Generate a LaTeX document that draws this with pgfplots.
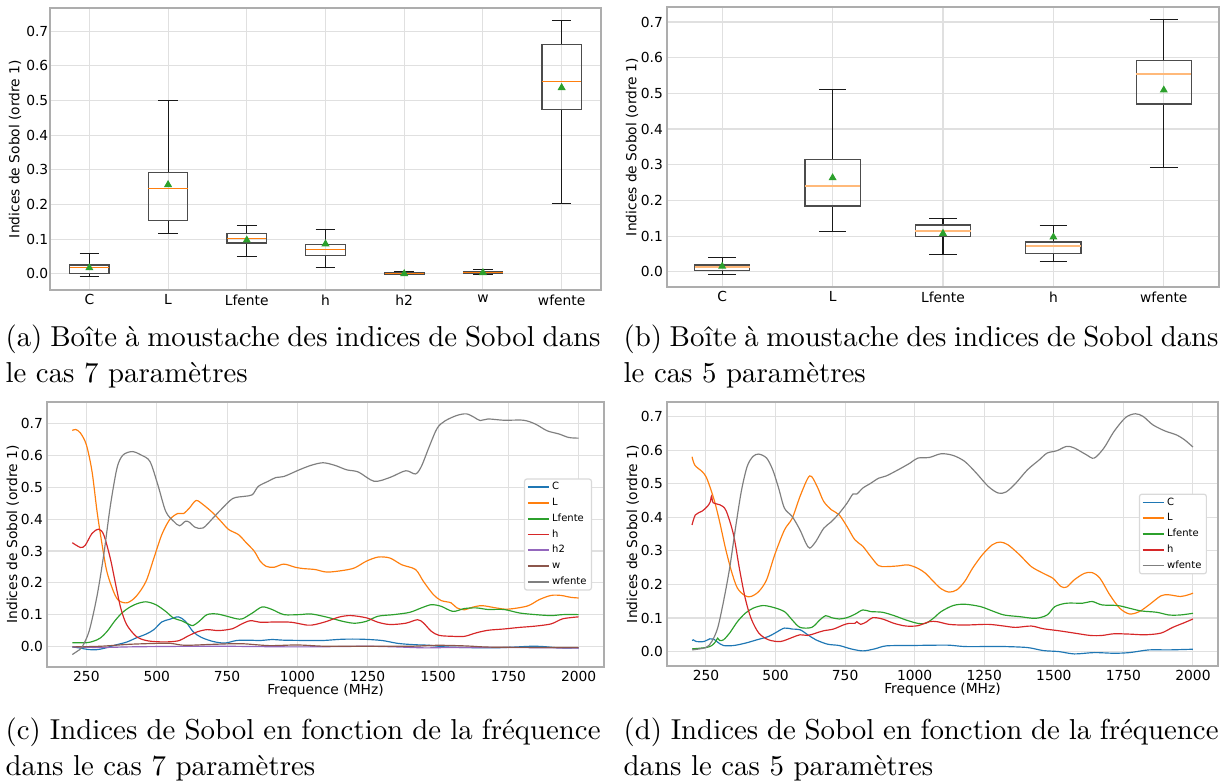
\documentclass[border=0pt]{standalone}
\usepackage{fontspec}
\usepackage{pgfplots}
\pgfplotsset{compat=1.18}
\usepgfplotslibrary{statistics}
\newfontfamily\dv{DejaVu Sans}
\newcommand\pf{\dv\fontsize{4.7}{5.6}\selectfont}
\newcommand\lf{\dv\fontsize{3.4}{4}\selectfont}
\definecolor{tblue}{HTML}{1F77B4}
\definecolor{torange}{HTML}{FF7F0E}
\definecolor{tgreen}{HTML}{2CA02C}
\definecolor{tred}{HTML}{D62728}
\definecolor{tpurple}{HTML}{9467BD}
\definecolor{tbrown}{HTML}{8C564B}
\definecolor{tgray}{HTML}{7F7F7F}
\pgfplotsset{
  mystyle/.style={
    scale only axis,
    anchor=north west,
    axis line style={draw=black!32, line width=0.4pt},
    grid=major,
    major grid style={draw=black!12, line width=0.35pt},
    major tick length=0pt,
    tick style={draw=none},
    ticklabel style={font=\pf},
    /pgf/number format/assume math mode=true,
    label style={font=\pf},
    ytick={0,0.1,0.2,0.3,0.4,0.5,0.6,0.7},
    yticklabel style={/pgf/number format/fixed, /pgf/number format/fixed zerofill, /pgf/number format/precision=1},
    every tick label/.append style={inner sep=0pt},
    xticklabel style={yshift=-1.4pt},
    yticklabel style={xshift=-1.2pt},
  },
  boxstyle/.style={
    mystyle,
    boxplot/draw direction=y,
    boxplot/every median/.style={draw=torange, line width=0.4pt},
    boxplot/every whisker/.style={draw=black!90, line width=0.35pt},
    boxplot/every box/.style={draw=black!70, line width=0.45pt},
  },
  linestyle/.style={
    mystyle,
    xmin=110, xmax=2090,
    xtick={250,500,750,1000,1250,1500,1750,2000},
    xticklabel style={/pgf/number format/1000 sep={}},
    xlabel={Frequence (MHz)},
    legend cell align=left,
    legend image code/.code={\draw[##1, line width=0.6pt] (0pt,0pt) -- (7.1pt,0pt);},
    every axis plot/.append style={line width=0.4pt, smooth, tension=0.5},
  },
  leg/.style={legend style={font=\lf, at={(axis description cs:#1,0.5)}, anchor=east,
    draw=black!15, rounded corners=0.8pt, fill=white, inner xsep=0.8pt, inner ysep=0.6pt,
    row sep=0.9pt,
    nodes={inner xsep=0.9pt, inner ysep=0.6pt, text height=2.5pt, text depth=0.75pt}}},
}
\newcommand\bx[7]{\addplot[draw=black!70, boxplot prepared={draw position=#1, lower whisker=#2, lower quartile=#3, median=#4, upper quartile=#5, upper whisker=#6, box extend=0.5, whisker extend=0.25}] coordinates {};}
\begin{document}
\begin{tikzpicture}
\useasboundingbox (0,0) rectangle (415.14pt,-266.22pt);
% (a)
\begin{axis}[boxstyle, at={(17pt,-2.72pt)}, width=187.34pt, height=95.88pt,
  xmin=0.5, xmax=7.5, ymin=-0.047, ymax=0.767,
  xtick={1,2,3,4,5,6,7}, xticklabels={C,L,Lfente,h,h2,w,wfente},
  yticklabel style={xshift=0.8pt},
  ylabel={Indices de Sobol (ordre 1)},
  ylabel style={at={(axis description cs:-0.0635,0.5)}, anchor=center}]
\bx{1}{-0.009}{0.001}{0.018}{0.025}{0.059}{}
\bx{2}{0.117}{0.154}{0.245}{0.293}{0.499}{}
\bx{3}{0.050}{0.089}{0.102}{0.116}{0.140}{}
\bx{4}{0.018}{0.052}{0.070}{0.084}{0.129}{}
\bx{5}{-0.003}{-0.001}{0.001}{0.004}{0.006}{}
\bx{6}{-0.002}{0.001}{0.004}{0.007}{0.011}{}
\bx{7}{0.202}{0.475}{0.554}{0.662}{0.731}{}
\addplot[only marks, mark=triangle*, mark size=1.2pt, color=tgreen] coordinates {(1,0.017) (2,0.257) (3,0.097) (4,0.086) (5,0.000) (6,0.003) (7,0.537)};
\end{axis}
% (b)
\begin{axis}[boxstyle, at={(226.78pt,-2.38pt)}, width=187.68pt, height=95.2pt,
  xmin=0.5, xmax=5.5, ymin=-0.043, ymax=0.742,
  xtick={1,2,3,4,5}, xticklabels={C,L,Lfente,h,wfente},
  boxplot/every median/.style={draw=torange!55, line width=0.65pt},
  ylabel={Indices de Sobol (ordre 1)},
  ylabel style={at={(axis description cs:-0.0634,0.5)}, anchor=center}]
\bx{1}{-0.008}{0.004}{0.013}{0.019}{0.041}{}
\bx{2}{0.112}{0.184}{0.240}{0.314}{0.510}{}
\bx{3}{0.049}{0.098}{0.114}{0.131}{0.148}{}
\bx{4}{0.028}{0.051}{0.073}{0.083}{0.129}{}
\bx{5}{0.291}{0.470}{0.554}{0.593}{0.706}{}
\addplot[only marks, mark=triangle*, mark size=1.2pt, color=tgreen] coordinates {(1,0.015) (2,0.263) (3,0.107) (4,0.097) (5,0.509)};
\end{axis}
% (c)
\begin{axis}[linestyle, leg=0.9785, at={(15.98pt,-136.68pt)}, width=189.38pt, height=90.1pt,
  ymin=-0.063, ymax=0.766,
  ylabel={Indices de Sobol (ordre 1)},
  ylabel style={at={(axis description cs:-0.0616,0.5)}, anchor=center},
  xlabel style={at={(axis description cs:0.5,-0.0906)}, anchor=center}]
\addplot[tblue] coordinates {(200,0.000) (230,-0.004) (255,-0.008) (285,-0.009) (315,-0.004) (350,0.005) (393,0.015) (427,0.028) (462,0.040) (490,0.054) (518,0.078) (545,0.086) (577,0.094) (602,0.080) (630,0.047) (658,0.030) (700,0.017) (742,0.012) (784,0.020) (826,0.021) (868,0.020) (910,0.023) (952,0.021) (1035,0.020) (1091,0.020) (1161,0.024) (1231,0.024) (1301,0.020) (1357,0.011) (1413,0.007) (1469,0.005) (1525,0.000) (1594,-0.002) (1692,-0.003) (1762,-0.001) (1832,0.002) (1874,0.001) (1930,-0.003) (2000,-0.003)};
\addplot[torange] coordinates {(200,0.677) (212,0.680) (229,0.669) (250,0.632) (270,0.549) (288,0.423) (306,0.319) (323,0.235) (347,0.172) (365,0.145) (395,0.138) (427,0.158) (462,0.205) (490,0.278) (518,0.351) (546,0.398) (574,0.417) (595,0.417) (616,0.434) (640,0.458) (665,0.445) (700,0.419) (728,0.393) (756,0.367) (791,0.351) (819,0.325) (847,0.299) (868,0.268) (889,0.252) (917,0.249) (952,0.259) (993,0.249) (1021,0.245) (1063,0.242) (1105,0.234) (1161,0.239) (1203,0.247) (1245,0.268) (1287,0.281) (1329,0.278) (1371,0.257) (1420,0.242) (1448,0.205) (1483,0.164) (1511,0.145) (1546,0.138) (1567,0.122) (1594,0.116) (1622,0.124) (1657,0.129) (1706,0.122) (1748,0.118) (1818,0.128) (1860,0.148) (1902,0.161) (1937,0.161) (1972,0.155) (2000,0.153)};
\addplot[tgreen] coordinates {(200,0.013) (250,0.013) (276,0.018) (300,0.028) (325,0.050) (350,0.080) (375,0.105) (400,0.122) (430,0.135) (462,0.141) (497,0.132) (532,0.111) (560,0.090) (588,0.082) (616,0.070) (630,0.067) (651,0.080) (679,0.101) (714,0.103) (749,0.096) (784,0.088) (805,0.088) (840,0.106) (875,0.125) (910,0.117) (952,0.101) (1007,0.101) (1049,0.103) (1105,0.093) (1161,0.080) (1203,0.074) (1245,0.080) (1287,0.096) (1343,0.101) (1399,0.108) (1441,0.122) (1476,0.132) (1511,0.127) (1553,0.111) (1594,0.120) (1636,0.122) (1678,0.117) (1734,0.117) (1790,0.106) (1846,0.101) (1902,0.098) (1944,0.101) (2000,0.101)};
\addplot[tred] coordinates {(200,0.326) (229,0.311) (246,0.318) (270,0.355) (294,0.368) (312,0.350) (335,0.277) (353,0.200) (372,0.122) (393,0.070) (427,0.033) (462,0.020) (504,0.016) (546,0.016) (581,0.020) (609,0.033) (644,0.047) (679,0.054) (721,0.051) (770,0.057) (798,0.070) (833,0.082) (868,0.077) (924,0.078) (979,0.077) (1035,0.068) (1063,0.070) (1105,0.080) (1147,0.093) (1189,0.098) (1245,0.091) (1287,0.077) (1329,0.070) (1385,0.074) (1427,0.085) (1448,0.075) (1476,0.049) (1504,0.036) (1553,0.033) (1594,0.033) (1636,0.044) (1678,0.052) (1734,0.056) (1790,0.061) (1846,0.065) (1902,0.072) (1944,0.088) (2000,0.094)};
\addplot[tpurple] coordinates {(200,0.000) (300,-0.002) (400,0.000) (500,0.001) (650,0.002) (750,0.002) (850,0.001) (1000,0.000) (1150,0.001) (1250,0.002) (1350,0.000) (1450,-0.003) (1550,-0.002) (1750,-0.002) (1900,-0.003) (2000,-0.004)};
\addplot[tbrown] coordinates {(200,0.000) (300,0.002) (400,0.008) (500,0.011) (550,0.011) (600,0.005) (700,0.008) (800,0.010) (900,0.004) (1000,0.006) (1100,0.002) (1250,0.002) (1400,0.002) (1500,0.005) (1600,0.003) (1700,-0.001) (2000,-0.002)};
\addplot[tgray] coordinates {(200,-0.024) (220,-0.012) (235,0.000) (260,0.050) (288,0.160) (312,0.290) (335,0.440) (359,0.560) (380,0.600) (413,0.611) (445,0.600) (476,0.580) (504,0.507) (532,0.424) (560,0.393) (581,0.379) (602,0.393) (616,0.390) (637,0.374) (665,0.372) (700,0.403) (728,0.429) (770,0.464) (812,0.471) (840,0.476) (861,0.502) (896,0.518) (924,0.530) (952,0.533) (1007,0.554) (1049,0.568) (1091,0.576) (1133,0.568) (1175,0.554) (1217,0.547) (1273,0.518) (1329,0.530) (1385,0.551) (1420,0.541) (1441,0.565) (1469,0.627) (1497,0.684) (1525,0.707) (1567,0.724) (1601,0.729) (1629,0.718) (1650,0.708) (1678,0.713) (1734,0.709) (1804,0.709) (1846,0.697) (1888,0.676) (1930,0.666) (1965,0.655) (2000,0.653)};
\legend{C,L,Lfente,h,h2,w,wfente}
\end{axis}
% (d)
\begin{axis}[linestyle, leg=0.98, at={(226.78pt,-136.68pt)}, width=187.34pt, height=89.76pt,
  ymin=-0.043, ymax=0.743,
  ylabel={Indices de Sobol (ordre 1)},
  ylabel style={at={(axis description cs:-0.0622,0.5)}, anchor=center},
  xlabel style={at={(axis description cs:0.5,-0.0909)}, anchor=center}]
\addplot[tblue] coordinates {(200,0.033) (205,0.035) (215,0.030) (243,0.030) (264,0.038) (278,0.037) (292,0.028) (313,0.018) (349,0.018) (391,0.025) (433,0.035) (475,0.045) (504,0.058) (532,0.070) (560,0.067) (588,0.065) (616,0.050) (645,0.035) (687,0.022) (729,0.018) (771,0.008) (814,0.002) (856,0.008) (898,0.017) (983,0.018) (1067,0.019) (1124,0.019) (1180,0.015) (1264,0.015) (1321,0.015) (1405,0.012) (1462,0.003) (1518,0.000) (1574,-0.007) (1645,-0.003) (1716,-0.005) (1772,-0.003) (1842,0.005) (1913,0.005) (2000,0.007)};
\addplot[torange] coordinates {(200,0.580) (210,0.555) (236,0.536) (250,0.521) (264,0.491) (281,0.447) (299,0.387) (320,0.308) (342,0.238) (363,0.189) (391,0.166) (412,0.164) (440,0.179) (468,0.214) (497,0.288) (532,0.362) (560,0.397) (588,0.462) (616,0.516) (630,0.521) (652,0.487) (673,0.447) (701,0.422) (729,0.407) (757,0.372) (785,0.333) (814,0.313) (842,0.283) (870,0.256) (898,0.253) (940,0.255) (976,0.258) (1011,0.248) (1039,0.233) (1067,0.209) (1095,0.187) (1124,0.177) (1152,0.184) (1180,0.209) (1208,0.248) (1243,0.288) (1279,0.318) (1307,0.326) (1335,0.318) (1377,0.288) (1419,0.253) (1462,0.233) (1497,0.218) (1525,0.194) (1546,0.192) (1574,0.214) (1610,0.233) (1638,0.235) (1666,0.218) (1701,0.169) (1737,0.129) (1772,0.112) (1807,0.119) (1842,0.139) (1885,0.166) (1913,0.169) (1955,0.164) (1983,0.169) (2000,0.174)};
\addplot[tgreen] coordinates {(200,0.008) (250,0.012) (271,0.018) (285,0.030) (292,0.040) (299,0.033) (313,0.035) (335,0.055) (363,0.089) (391,0.114) (419,0.129) (454,0.137) (490,0.132) (532,0.119) (560,0.094) (588,0.072) (630,0.072) (659,0.094) (680,0.107) (701,0.101) (729,0.097) (757,0.101) (785,0.111) (814,0.124) (842,0.119) (884,0.117) (926,0.107) (969,0.094) (1011,0.084) (1039,0.084) (1067,0.099) (1095,0.119) (1138,0.137) (1180,0.141) (1236,0.134) (1279,0.121) (1321,0.109) (1377,0.104) (1434,0.099) (1476,0.109) (1504,0.134) (1546,0.144) (1603,0.144) (1638,0.149) (1673,0.139) (1730,0.137) (1772,0.129) (1814,0.121) (1870,0.117) (1913,0.109) (1955,0.109) (2000,0.114)};
\addplot[tred] coordinates {(200,0.377) (212,0.407) (236,0.418) (255,0.432) (265,0.445) (270,0.463) (276,0.443) (300,0.437) (322,0.420) (349,0.348) (370,0.248) (391,0.159) (412,0.099) (440,0.055) (475,0.035) (518,0.030) (560,0.042) (588,0.050) (616,0.048) (645,0.055) (673,0.062) (708,0.067) (743,0.079) (764,0.084) (785,0.084) (792,0.089) (806,0.081) (828,0.089) (849,0.101) (884,0.097) (926,0.084) (969,0.076) (1011,0.077) (1053,0.089) (1081,0.089) (1124,0.081) (1180,0.079) (1264,0.081) (1321,0.076) (1363,0.072) (1419,0.076) (1462,0.068) (1518,0.062) (1574,0.055) (1631,0.048) (1673,0.048) (1716,0.053) (1772,0.052) (1828,0.050) (1885,0.055) (1927,0.072) (1969,0.086) (2000,0.097)};
\addplot[tgray] coordinates {(200,0.005) (250,0.012) (271,0.030) (292,0.070) (313,0.149) (335,0.248) (356,0.367) (377,0.477) (398,0.551) (419,0.581) (440,0.588) (468,0.576) (490,0.541) (511,0.487) (532,0.427) (560,0.402) (588,0.362) (609,0.323) (623,0.308) (645,0.328) (673,0.367) (701,0.387) (729,0.412) (757,0.442) (778,0.469) (792,0.469) (814,0.487) (842,0.501) (870,0.516) (898,0.523) (940,0.541) (983,0.561) (1011,0.576) (1053,0.578) (1095,0.589) (1138,0.584) (1180,0.566) (1222,0.531) (1264,0.492) (1300,0.472) (1328,0.475) (1363,0.501) (1405,0.541) (1448,0.571) (1476,0.591) (1511,0.598) (1546,0.611) (1574,0.606) (1617,0.586) (1645,0.576) (1680,0.606) (1716,0.655) (1758,0.697) (1793,0.708) (1821,0.700) (1856,0.675) (1899,0.657) (1941,0.645) (1969,0.631) (2000,0.609)};
\legend{C,L,Lfente,h,wfente}
\end{axis}
% captions
\node[anchor=base west, inner sep=0pt] at (1.7pt,-117.64pt) {\parbox[t]{202.3pt}{\fontsize{9.8}{12.24}\selectfont\noindent (a) Boîte à moustache des indices de Sobol dans\linebreak le cas 7 paramètres}};
\node[anchor=base west, inner sep=0pt] at (211.82pt,-117.64pt) {\parbox[t]{202.3pt}{\fontsize{9.8}{12.24}\selectfont\noindent (b) Boîte à moustache des indices de Sobol dans\linebreak le cas 5 paramètres}};
\node[anchor=base west, inner sep=0pt] at (1.7pt,-251.26pt) {\parbox[t]{202.3pt}{\fontsize{9.8}{12.24}\selectfont\noindent (c) Indices de Sobol en fonction de la fréquence\linebreak dans le cas 7 paramètres}};
\node[anchor=base west, inner sep=0pt] at (211.82pt,-251.26pt) {\parbox[t]{202.3pt}{\fontsize{9.8}{12.24}\selectfont\noindent (d) Indices de Sobol en fonction de la fréquence\linebreak dans le cas 5 paramètres}};
\end{tikzpicture}
\end{document}
